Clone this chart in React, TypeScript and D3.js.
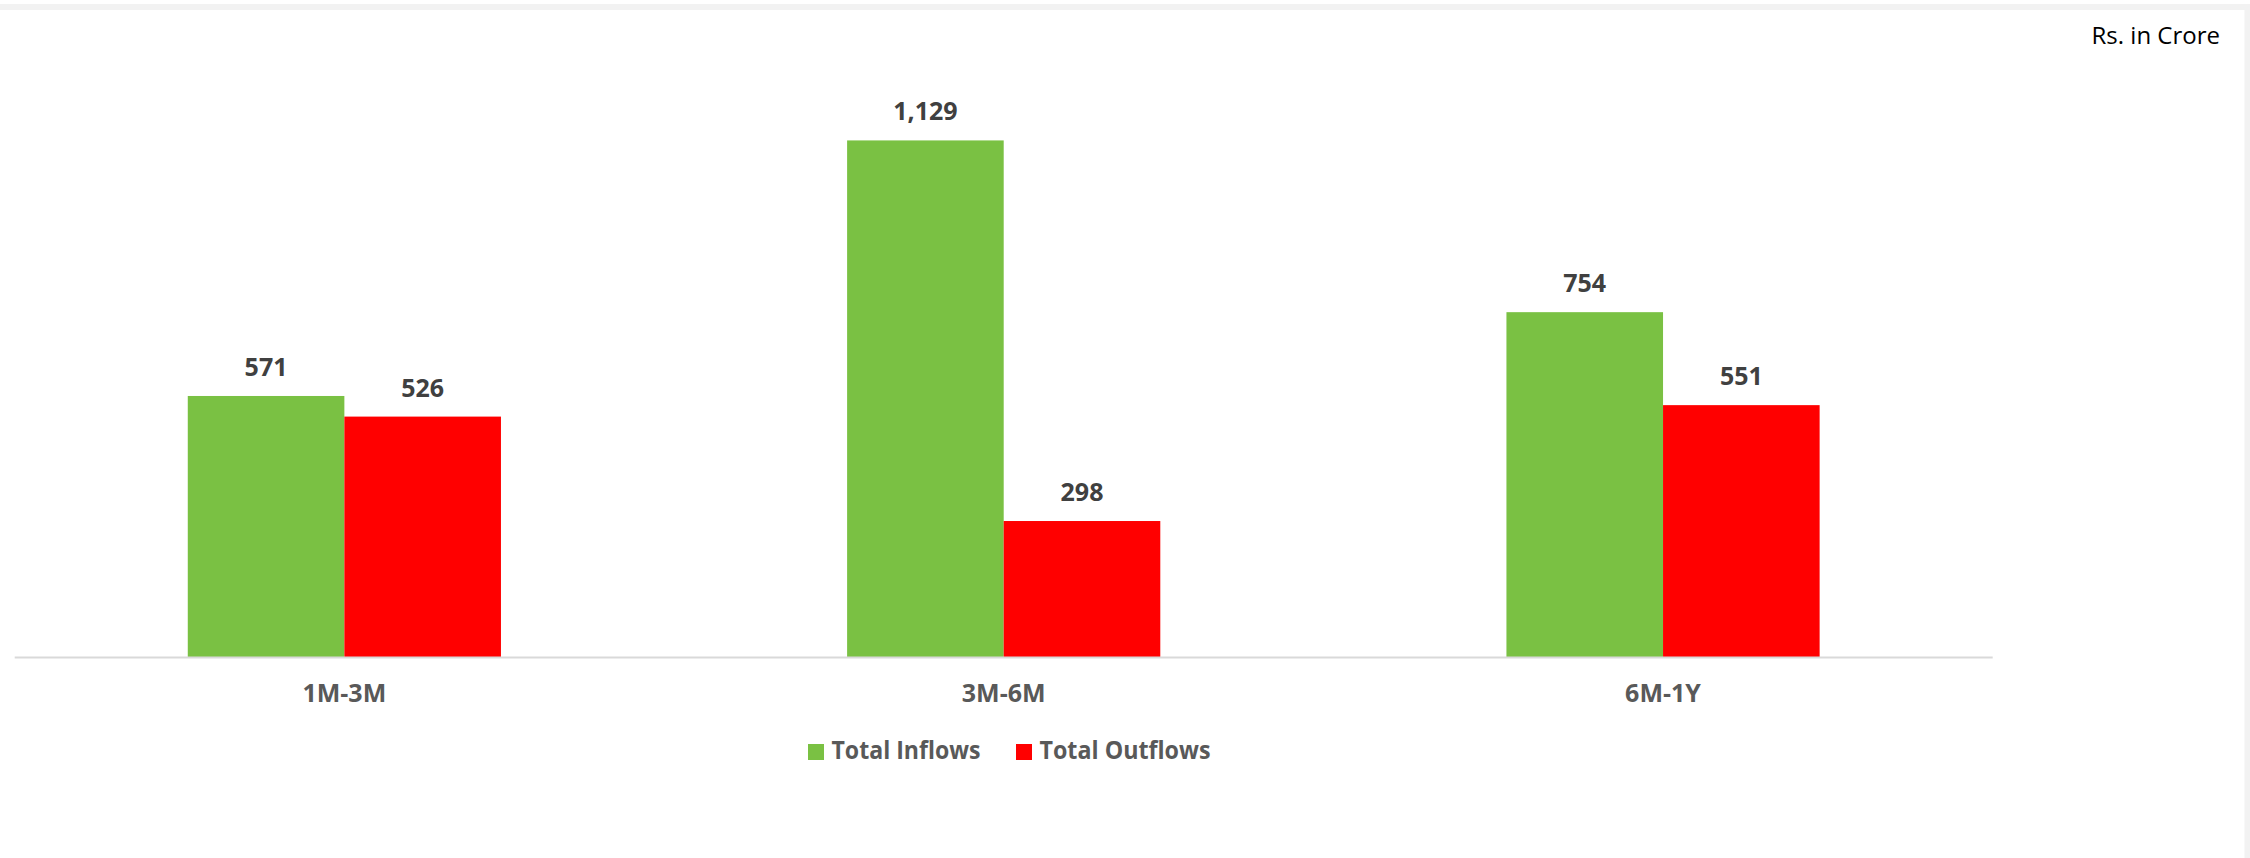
import React from "react";
import * as d3 from "d3";

const categories = ["1M-3M", "3M-6M", "6M-1Y"];
const seriesNames = ["Total Inflows", "Total Outflows"];
const inflows = [571, 1129, 754];
const outflows = [526, 298, 551];
const seriesColors = ["#7ac143", "#ff0000"];

const W = 2250;
const H = 858;
const FONT = "'Open Sans', 'Noto Sans', sans-serif";

export default function App() {
  const x0 = d3
    .scaleBand<string>()
    .domain(categories)
    .range([14.7, 1992.7])
    .paddingInner(0.525)
    .paddingOuter(0.2625);
  const x1 = d3
    .scaleBand<string>()
    .domain(seriesNames)
    .range([0, x0.bandwidth()])
    .padding(0);
  const y = d3.scaleLinear().domain([0, 1200]).range([657.5, 107.9]);
  const fmt = d3.format(",");
  const series = [inflows, outflows];
  const legendX = [808, 1016];
  const legendTextLen = [149, 171];

  return (
    <svg
      width={W}
      height={H}
      style={{ position: "absolute", left: 0, top: 0, background: "#ffffff" }}
    >
      <rect x={0} y={4} width={W} height={6} fill="#f2f2f2" />
      <rect x={2244.5} y={10} width={5.5} height={H - 10} fill="#f2f2f2" />
      <text
        x={2220}
        y={44}
        textAnchor="end"
        fontFamily={FONT}
        fontSize={24}
        fill="#000000"
      >
        Rs. in Crore
      </text>
      {categories.map((c, ci) => (
        <g key={c} transform={`translate(${x0(c)},0)`}>
          {seriesNames.map((s, si) => {
            const v = series[si][ci];
            const bx = x1(s) as number;
            return (
              <g key={s}>
                <rect
                  x={bx}
                  y={y(v)}
                  width={x1.bandwidth()}
                  height={y(0) - y(v)}
                  fill={seriesColors[si]}
                />
                <text
                  x={bx + x1.bandwidth() / 2}
                  y={y(v) - 20}
                  textAnchor="middle"
                  fontFamily={FONT}
                  fontWeight="bold"
                  fontSize={25}
                  fill="#404040"
                >
                  {fmt(v)}
                </text>
              </g>
            );
          })}
          <text
            x={x0.bandwidth() / 2}
            y={702}
            textAnchor="middle"
            fontFamily={FONT}
            fontWeight="bold"
            fontSize={25}
            fill="#595959"
          >
            {c}
          </text>
        </g>
      ))}
      <line x1={14.7} x2={1992.7} y1={657.5} y2={657.5} stroke="#d9d9d9" strokeWidth={2} />
      {seriesNames.map((s, si) => {
        const lx = legendX[si];
        return (
          <g key={s}>
            <rect x={lx} y={744} width={16} height={16} fill={seriesColors[si]} />
            <text
              x={lx + 23.5}
              y={759}
              fontFamily={FONT}
              fontWeight="bold"
              fontSize={25}
              fill="#595959"
              textLength={legendTextLen[si]}
              lengthAdjust="spacingAndGlyphs"
            >
              {s}
            </text>
          </g>
        );
      })}
    </svg>
  );
}
